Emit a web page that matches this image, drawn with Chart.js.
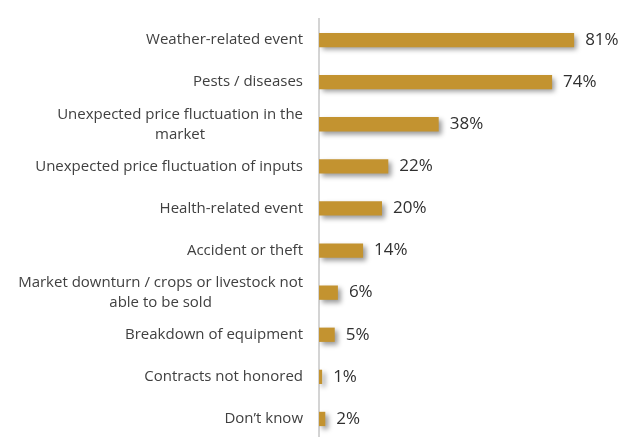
<!DOCTYPE html>
<html>
<head>
<meta charset="utf-8">
<script src="https://cdn.jsdelivr.net/npm/chart.js@4/dist/chart.umd.min.js"></script>
<style>
  html, body { margin: 0; padding: 0; background: #fff; overflow: hidden; }
  #wrap { width: 631px; height: 437px; overflow: hidden; }
</style>
</head>
<body>
<div id="wrap"><canvas id="risks" width="634" height="440"></canvas></div>
<script>
// Risk categories (multi-line ones split the way they wrap)
const categories = [
  ['Weather-related event'],
  ['Pests / diseases'],
  ['Unexpected price fluctuation in the', 'market'],
  ['Unexpected price fluctuation of inputs'],
  ['Health-related event'],
  ['Accident or theft'],
  ['Market downturn / crops or livestock not', 'able to be sold'],
  ['Breakdown of equipment'],
  ['Contracts not honored'],
  ['Don\u2019t know']
];
// Share of respondents, percent
const shares = [81, 74, 38, 22, 20, 14, 6, 5, 1, 2];

const labelFont = '15px "Open Sans"';
const valueFont = '17px "Open Sans"';

// drop shadow under the bars
const barShadow = {
  id: 'barShadow',
  beforeDatasetsDraw(chart) {
    const ctx = chart.ctx;
    ctx.save();
    ctx.shadowColor = 'rgba(0,0,0,0.4)';
    ctx.shadowBlur = 5;
    ctx.shadowOffsetX = 3;
    ctx.shadowOffsetY = 3;
  },
  afterDatasetsDraw(chart) {
    chart.ctx.restore();
  }
};

// percent labels at bar ends + category labels (centered block, right edge at axis)
const textLabels = {
  id: 'textLabels',
  afterDraw(chart) {
    const ctx = chart.ctx;
    const yScale = chart.scales.y;
    ctx.save();
    ctx.textBaseline = 'middle';

    ctx.font = valueFont;
    ctx.fillStyle = '#303030';
    ctx.textAlign = 'left';
    chart.getDatasetMeta(0).data.forEach((bar, i) => {
      ctx.fillText(shares[i] + '%', bar.x + 11, bar.y);
    });

    ctx.font = labelFont;
    ctx.fillStyle = '#404040';
    ctx.textAlign = 'center';
    const rightEdge = chart.chartArea.left - 16;
    const lineH = 20;
    categories.forEach((lines, i) => {
      const yc = yScale.getPixelForTick(i);
      const w = Math.max(...lines.map(l => ctx.measureText(l).width));
      const cx = rightEdge - w / 2;
      const y0 = yc - (lines.length - 1) * lineH / 2;
      lines.forEach((l, j) => ctx.fillText(l, cx, y0 + j * lineH));
    });
    ctx.restore();
  }
};

new Chart('risks', {
  type: 'bar',
  data: {
    labels: categories,
    datasets: [{
      data: shares,
      backgroundColor: '#C39330',
      borderWidth: 0,
      categoryPercentage: 1,
      barPercentage: 0.34
    }]
  },
  options: {
    indexAxis: 'y',
    responsive: false,
    animation: false,
    layout: { padding: { top: 19, right: 0, bottom: 0, left: 0 } },
    plugins: { legend: { display: false }, tooltip: { enabled: false } },
    scales: {
      x: { min: 0, max: 100, display: false },
      y: {
        grid: { display: false },
        border: { display: true, color: '#d4d4d4', width: 2 },
        ticks: { display: false },
        afterFit(scale) { scale.width = 319; }
      }
    }
  },
  plugins: [barShadow, textLabels]
});
</script>
</body>
</html>
